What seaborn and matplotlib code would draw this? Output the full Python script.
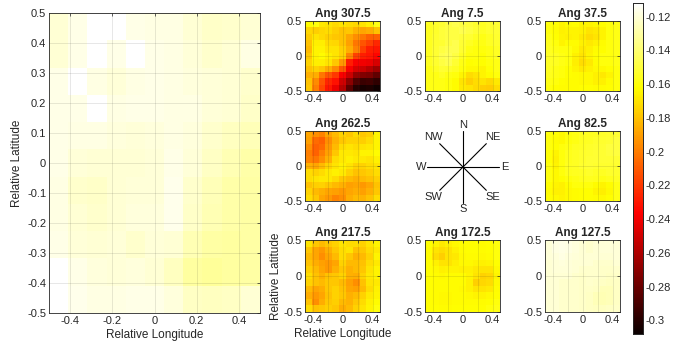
import numpy as np
import pandas as pd
import seaborn as sns
import matplotlib.pyplot as plt

# ===============================
# DATA (rows: latitude 0.5 -> -0.5, cols: longitude -0.5 -> 0.5)
# ===============================
lat_vals = [0.5, 0.4, 0.3, 0.2, 0.1, 0.0, -0.1, -0.2, -0.3, -0.4, -0.5]
lon_vals = [-0.5, -0.4, -0.3, -0.2, -0.1, 0.0, 0.1, 0.2, 0.3, 0.4, 0.5]

all_dirs = [
    [-0.121, -0.117, -0.112, -0.112, -0.117, -0.118, -0.118, -0.121, -0.123, -0.122, -0.121],
    [-0.121, -0.117, -0.112, -0.117, -0.112, -0.117, -0.118, -0.120, -0.122, -0.121, -0.118],
    [-0.117, -0.112, -0.118, -0.120, -0.118, -0.117, -0.118, -0.119, -0.120, -0.121, -0.122],
    [-0.117, -0.117, -0.112, -0.118, -0.117, -0.117, -0.118, -0.118, -0.120, -0.121, -0.123],
    [-0.117, -0.118, -0.118, -0.119, -0.120, -0.119, -0.118, -0.119, -0.122, -0.125, -0.126],
    [-0.117, -0.120, -0.121, -0.121, -0.121, -0.120, -0.117, -0.120, -0.124, -0.127, -0.129],
    [-0.118, -0.122, -0.123, -0.121, -0.120, -0.120, -0.116, -0.122, -0.126, -0.129, -0.130],
    [-0.118, -0.121, -0.122, -0.121, -0.119, -0.119, -0.116, -0.123, -0.127, -0.129, -0.130],
    [-0.117, -0.120, -0.121, -0.120, -0.122, -0.120, -0.121, -0.127, -0.130, -0.131, -0.130],
    [-0.112, -0.117, -0.119, -0.120, -0.119, -0.121, -0.125, -0.131, -0.132, -0.131, -0.130],
    [-0.112, -0.116, -0.118, -0.118, -0.117, -0.117, -0.119, -0.124, -0.125, -0.124, -0.121],
]

ang_307 = [
    [-0.163, -0.160, -0.168, -0.170, -0.173, -0.170, -0.172, -0.174, -0.170, -0.166, -0.158],
    [-0.174, -0.176, -0.174, -0.172, -0.176, -0.180, -0.178, -0.184, -0.188, -0.186, -0.180],
    [-0.177, -0.170, -0.173, -0.176, -0.178, -0.180, -0.188, -0.195, -0.202, -0.208, -0.208],
    [-0.180, -0.167, -0.167, -0.173, -0.174, -0.180, -0.190, -0.202, -0.212, -0.218, -0.225],
    [-0.182, -0.165, -0.165, -0.170, -0.170, -0.176, -0.186, -0.198, -0.218, -0.228, -0.230],
    [-0.178, -0.165, -0.163, -0.167, -0.170, -0.176, -0.198, -0.218, -0.228, -0.230, -0.235],
    [-0.175, -0.167, -0.167, -0.170, -0.178, -0.192, -0.228, -0.238, -0.240, -0.242, -0.248],
    [-0.180, -0.175, -0.178, -0.186, -0.196, -0.212, -0.238, -0.248, -0.252, -0.258, -0.265],
    [-0.185, -0.186, -0.202, -0.212, -0.220, -0.238, -0.252, -0.268, -0.273, -0.275, -0.282],
    [-0.180, -0.196, -0.212, -0.226, -0.232, -0.250, -0.270, -0.287, -0.294, -0.292, -0.297],
    [-0.178, -0.200, -0.216, -0.230, -0.242, -0.258, -0.284, -0.300, -0.304, -0.302, -0.306],
]

ang_262 = [
    [-0.188, -0.195, -0.198, -0.188, -0.182, -0.175, -0.178, -0.172, -0.178, -0.176, -0.165],
    [-0.190, -0.205, -0.208, -0.195, -0.185, -0.178, -0.175, -0.175, -0.176, -0.172, -0.165],
    [-0.195, -0.208, -0.205, -0.192, -0.182, -0.172, -0.170, -0.172, -0.170, -0.168, -0.165],
    [-0.200, -0.208, -0.200, -0.190, -0.178, -0.168, -0.168, -0.170, -0.165, -0.165, -0.163],
    [-0.198, -0.202, -0.195, -0.185, -0.172, -0.168, -0.166, -0.168, -0.168, -0.170, -0.166],
    [-0.185, -0.188, -0.182, -0.175, -0.170, -0.166, -0.170, -0.175, -0.175, -0.172, -0.170],
    [-0.172, -0.175, -0.172, -0.168, -0.166, -0.168, -0.175, -0.180, -0.178, -0.176, -0.172],
    [-0.172, -0.170, -0.168, -0.168, -0.172, -0.178, -0.182, -0.185, -0.182, -0.180, -0.176],
    [-0.180, -0.176, -0.175, -0.178, -0.182, -0.185, -0.190, -0.188, -0.192, -0.188, -0.180],
    [-0.175, -0.182, -0.185, -0.188, -0.190, -0.192, -0.188, -0.186, -0.190, -0.185, -0.178],
    [-0.172, -0.178, -0.188, -0.192, -0.198, -0.195, -0.186, -0.182, -0.184, -0.180, -0.172],
]

ang_217 = [
    [-0.170, -0.178, -0.182, -0.178, -0.175, -0.170, -0.172, -0.172, -0.175, -0.170, -0.165],
    [-0.178, -0.188, -0.192, -0.185, -0.178, -0.172, -0.170, -0.180, -0.178, -0.172, -0.168],
    [-0.182, -0.188, -0.195, -0.188, -0.182, -0.172, -0.178, -0.185, -0.182, -0.175, -0.165],
    [-0.180, -0.186, -0.190, -0.192, -0.188, -0.175, -0.182, -0.182, -0.180, -0.172, -0.168],
    [-0.176, -0.182, -0.188, -0.192, -0.185, -0.178, -0.185, -0.182, -0.178, -0.170, -0.165],
    [-0.172, -0.180, -0.185, -0.180, -0.178, -0.175, -0.185, -0.186, -0.175, -0.168, -0.165],
    [-0.175, -0.180, -0.182, -0.178, -0.178, -0.182, -0.190, -0.195, -0.180, -0.170, -0.168],
    [-0.182, -0.188, -0.186, -0.178, -0.175, -0.180, -0.188, -0.190, -0.182, -0.172, -0.166],
    [-0.186, -0.192, -0.188, -0.180, -0.175, -0.178, -0.185, -0.182, -0.175, -0.168, -0.165],
    [-0.180, -0.195, -0.186, -0.178, -0.176, -0.182, -0.184, -0.178, -0.172, -0.166, -0.163],
    [-0.172, -0.180, -0.178, -0.176, -0.178, -0.186, -0.182, -0.175, -0.170, -0.165, -0.160],
]

ang_7 = [
    [-0.156, -0.154, -0.152, -0.149, -0.147, -0.149, -0.151, -0.153, -0.155, -0.153, -0.152],
    [-0.156, -0.154, -0.151, -0.149, -0.149, -0.147, -0.149, -0.152, -0.155, -0.153, -0.152],
    [-0.156, -0.153, -0.151, -0.149, -0.149, -0.151, -0.152, -0.155, -0.158, -0.155, -0.153],
    [-0.156, -0.153, -0.152, -0.149, -0.147, -0.152, -0.155, -0.158, -0.158, -0.155, -0.154],
    [-0.156, -0.152, -0.149, -0.147, -0.147, -0.153, -0.158, -0.160, -0.160, -0.158, -0.155],
    [-0.156, -0.152, -0.147, -0.145, -0.149, -0.155, -0.160, -0.160, -0.161, -0.158, -0.155],
    [-0.156, -0.153, -0.149, -0.147, -0.152, -0.158, -0.162, -0.161, -0.162, -0.160, -0.158],
    [-0.158, -0.155, -0.152, -0.153, -0.155, -0.160, -0.164, -0.164, -0.165, -0.161, -0.158],
    [-0.158, -0.158, -0.155, -0.158, -0.160, -0.165, -0.172, -0.170, -0.165, -0.163, -0.160],
    [-0.158, -0.158, -0.158, -0.160, -0.163, -0.170, -0.176, -0.172, -0.170, -0.173, -0.168],
    [-0.158, -0.158, -0.158, -0.160, -0.163, -0.168, -0.170, -0.173, -0.176, -0.177, -0.172],
]

ang_37 = [
    [-0.160, -0.162, -0.165, -0.163, -0.162, -0.165, -0.165, -0.164, -0.162, -0.160, -0.158],
    [-0.160, -0.163, -0.166, -0.165, -0.165, -0.166, -0.170, -0.168, -0.165, -0.160, -0.158],
    [-0.158, -0.162, -0.165, -0.166, -0.165, -0.168, -0.172, -0.170, -0.165, -0.160, -0.158],
    [-0.157, -0.160, -0.165, -0.163, -0.163, -0.166, -0.168, -0.166, -0.163, -0.160, -0.158],
    [-0.156, -0.158, -0.160, -0.160, -0.164, -0.168, -0.166, -0.163, -0.162, -0.160, -0.158],
    [-0.155, -0.156, -0.158, -0.160, -0.166, -0.170, -0.165, -0.162, -0.160, -0.160, -0.158],
    [-0.155, -0.156, -0.158, -0.160, -0.167, -0.172, -0.168, -0.163, -0.160, -0.160, -0.158],
    [-0.156, -0.158, -0.160, -0.162, -0.165, -0.168, -0.166, -0.164, -0.164, -0.162, -0.160],
    [-0.157, -0.158, -0.160, -0.162, -0.163, -0.164, -0.164, -0.166, -0.168, -0.165, -0.160],
    [-0.158, -0.160, -0.162, -0.163, -0.163, -0.164, -0.164, -0.166, -0.166, -0.163, -0.160],
    [-0.160, -0.162, -0.163, -0.163, -0.163, -0.162, -0.162, -0.163, -0.163, -0.162, -0.160],
]

ang_82 = [
    [-0.160, -0.162, -0.164, -0.160, -0.158, -0.156, -0.156, -0.155, -0.154, -0.153, -0.152],
    [-0.160, -0.163, -0.164, -0.160, -0.158, -0.156, -0.155, -0.154, -0.153, -0.152, -0.150],
    [-0.160, -0.162, -0.160, -0.158, -0.156, -0.155, -0.154, -0.153, -0.152, -0.150, -0.150],
    [-0.161, -0.165, -0.160, -0.157, -0.155, -0.154, -0.153, -0.152, -0.152, -0.151, -0.150],
    [-0.161, -0.166, -0.160, -0.157, -0.155, -0.154, -0.152, -0.152, -0.152, -0.152, -0.152],
    [-0.160, -0.165, -0.160, -0.156, -0.155, -0.153, -0.152, -0.153, -0.153, -0.153, -0.153],
    [-0.160, -0.164, -0.160, -0.157, -0.156, -0.155, -0.154, -0.155, -0.155, -0.154, -0.154],
    [-0.160, -0.164, -0.162, -0.160, -0.158, -0.157, -0.156, -0.157, -0.158, -0.157, -0.155],
    [-0.162, -0.165, -0.166, -0.163, -0.160, -0.160, -0.160, -0.163, -0.165, -0.163, -0.158],
    [-0.163, -0.166, -0.166, -0.164, -0.163, -0.162, -0.162, -0.165, -0.167, -0.164, -0.158],
    [-0.162, -0.164, -0.165, -0.164, -0.163, -0.162, -0.162, -0.163, -0.164, -0.162, -0.158],
]

ang_172 = [
    [-0.162, -0.165, -0.168, -0.166, -0.164, -0.162, -0.162, -0.162, -0.163, -0.162, -0.160],
    [-0.163, -0.170, -0.172, -0.170, -0.166, -0.163, -0.162, -0.162, -0.163, -0.162, -0.160],
    [-0.163, -0.172, -0.176, -0.170, -0.168, -0.164, -0.163, -0.163, -0.164, -0.163, -0.160],
    [-0.162, -0.166, -0.170, -0.170, -0.167, -0.164, -0.164, -0.165, -0.166, -0.165, -0.162],
    [-0.162, -0.164, -0.166, -0.165, -0.165, -0.166, -0.166, -0.168, -0.170, -0.170, -0.164],
    [-0.162, -0.163, -0.164, -0.163, -0.163, -0.163, -0.165, -0.170, -0.175, -0.174, -0.165],
    [-0.162, -0.163, -0.163, -0.163, -0.163, -0.163, -0.166, -0.176, -0.174, -0.172, -0.164],
    [-0.162, -0.163, -0.163, -0.163, -0.163, -0.164, -0.166, -0.170, -0.170, -0.168, -0.163],
    [-0.162, -0.163, -0.164, -0.164, -0.163, -0.163, -0.164, -0.165, -0.165, -0.164, -0.162],
    [-0.162, -0.163, -0.164, -0.164, -0.163, -0.163, -0.163, -0.163, -0.163, -0.162, -0.160],
    [-0.162, -0.162, -0.163, -0.163, -0.162, -0.162, -0.162, -0.162, -0.162, -0.160, -0.158],
]

ang_127 = [
    [-0.120, -0.118, -0.117, -0.118, -0.119, -0.121, -0.122, -0.121, -0.120, -0.120, -0.120],
    [-0.120, -0.118, -0.117, -0.118, -0.119, -0.121, -0.122, -0.121, -0.120, -0.120, -0.120],
    [-0.120, -0.119, -0.118, -0.119, -0.120, -0.121, -0.121, -0.121, -0.121, -0.121, -0.120],
    [-0.121, -0.120, -0.119, -0.120, -0.121, -0.121, -0.121, -0.122, -0.122, -0.122, -0.121],
    [-0.121, -0.120, -0.120, -0.120, -0.121, -0.122, -0.122, -0.122, -0.123, -0.123, -0.122],
    [-0.121, -0.121, -0.121, -0.121, -0.122, -0.123, -0.122, -0.122, -0.123, -0.124, -0.123],
    [-0.121, -0.121, -0.122, -0.122, -0.122, -0.123, -0.122, -0.123, -0.124, -0.125, -0.124],
    [-0.121, -0.121, -0.122, -0.122, -0.122, -0.123, -0.123, -0.124, -0.126, -0.126, -0.124],
    [-0.121, -0.121, -0.122, -0.122, -0.122, -0.123, -0.124, -0.126, -0.127, -0.126, -0.124],
    [-0.121, -0.121, -0.122, -0.122, -0.122, -0.123, -0.124, -0.126, -0.127, -0.126, -0.124],
    [-0.121, -0.121, -0.122, -0.122, -0.122, -0.123, -0.124, -0.125, -0.125, -0.124, -0.123],
]

# small panels: title, data, (column, row) in the 3x3 grid
panels = [
    ("Ang 307.5", ang_307, 0, 0),
    ("Ang 7.5",   ang_7,   1, 0),
    ("Ang 37.5",  ang_37,  2, 0),
    ("Ang 262.5", ang_262, 0, 1),
    ("Ang 82.5",  ang_82,  2, 1),
    ("Ang 217.5", ang_217, 0, 2),
    ("Ang 172.5", ang_172, 1, 2),
    ("Ang 127.5", ang_127, 2, 2),
]

compass_labels = ["N", "NE", "E", "SE", "S", "SW", "W", "NW"]
compass_angles = [90, 45, 0, -45, -90, -135, 180, 135]

VMIN, VMAX = -0.308, -0.112
cbar_ticks = [-0.3, -0.28, -0.26, -0.24, -0.22, -0.2, -0.18, -0.16, -0.14, -0.12]

# ===============================
# STYLE
# ===============================
sns.set_style("white")
plt.rcParams["font.family"] = ["Liberation Sans", "DejaVu Sans"]
plt.rcParams["font.size"] = 8
AX_COLOR = "#262626"
TICK_FS = 8
LABEL_FS = 8.5

W, H = 688, 348
fig = plt.figure(figsize=(W / 100, H / 100), dpi=100)


def px_axes(l, t, r, b):
    return fig.add_axes([l / W, 1 - b / H, (r - l) / W, (b - t) / H])


def fmt(v):
    s = f"{v:g}"
    return "0" if s in ("0", "-0") else s


def draw_map(ax, data, xticks, xlabels, yticks, ylabels, cbar_ax=None):
    df = pd.DataFrame(data, index=lat_vals, columns=lon_vals)
    n = len(lon_vals)
    sns.heatmap(df, ax=ax, cmap="hot", vmin=VMIN, vmax=VMAX,
                cbar=cbar_ax is not None, cbar_ax=cbar_ax,
                xticklabels=False, yticklabels=False)
    ax.set_xticks([(v + 0.5) * n for v in xticks])
    ax.set_xticklabels(xlabels)
    ax.set_yticks([(0.5 - v) * n for v in yticks])
    ax.set_yticklabels(ylabels, rotation=0)
    ax.set_xlabel("")
    ax.set_ylabel("")
    ax.set_axisbelow(False)
    ax.grid(True, color="#262626", alpha=0.13, linewidth=0.6)
    for s in ax.spines.values():
        s.set_visible(True)
        s.set_color(AX_COLOR)
        s.set_linewidth(0.6)
    ax.tick_params(direction="in", length=2.5, width=0.5, colors=AX_COLOR,
                   top=True, right=True, labelsize=TICK_FS, pad=2)
    for lab in ax.get_xticklabels() + ax.get_yticklabels():
        lab.set_color(AX_COLOR)


# ===============================
# BIG MAP (all directions)
# ===============================
ax_big = px_axes(49, 13, 260, 313)
cax = px_axes(633, 3, 643, 334)
big_x = [-0.4, -0.2, 0, 0.2, 0.4]
big_y = [0.5, 0.4, 0.3, 0.2, 0.1, 0, -0.1, -0.2, -0.3, -0.4, -0.5]
draw_map(ax_big, all_dirs, big_x, [fmt(v) for v in big_x],
         big_y, [fmt(v) for v in big_y], cbar_ax=cax)
ax_big.set_xlabel("Relative Longitude", fontsize=LABEL_FS, color=AX_COLOR, labelpad=2)
ax_big.set_ylabel("Relative Latitude", fontsize=LABEL_FS, color=AX_COLOR, labelpad=3)

# colorbar styling
cax.set_yticks(cbar_ticks)
cax.set_yticklabels([fmt(v) for v in cbar_ticks])
cax.tick_params(direction="in", length=2.5, width=0.5, colors=AX_COLOR,
                labelsize=TICK_FS, pad=2)
for s in cax.spines.values():
    s.set_visible(True)
    s.set_color(AX_COLOR)
    s.set_linewidth(0.6)

# ===============================
# SMALL MAPS
# ===============================
col_left = [305, 425, 545]
row_span = [(21, 91), (131, 201), (240, 312)]
small_x = [-0.4, -0.2, 0, 0.2, 0.4]
small_xl = ["-0.4", "", "0", "", "0.4"]
small_y = [0.5, 0, -0.5]

for title, data, c, r in panels:
    t, b = row_span[r]
    ax = px_axes(col_left[c], t, col_left[c] + 75, b)
    draw_map(ax, data, small_x, small_xl, small_y, [fmt(v) for v in small_y])
    ax.set_title(title, fontsize=8.5, fontweight="bold", pad=3)
    if title == "Ang 217.5":
        ax.set_xlabel("Relative Longitude", fontsize=LABEL_FS, color=AX_COLOR, labelpad=2)
        ax.set_ylabel("Relative Latitude", fontsize=LABEL_FS, color=AX_COLOR, labelpad=1)

# ===============================
# COMPASS
# ===============================
axc = px_axes(413, 117, 513, 217)
axc.set_xlim(-50, 50)
axc.set_ylim(-50, 50)
axc.axis("off")
for lab, ang in zip(compass_labels, compass_angles):
    a = np.deg2rad(ang)
    r_line = 36 if len(lab) == 1 else 33
    axc.plot([0, r_line * np.cos(a)], [0, r_line * np.sin(a)],
             color="black", linewidth=0.8)
    axc.text(42 * np.cos(a), 42 * np.sin(a), lab, ha="center", va="center",
             fontsize=8, color=AX_COLOR)

fig.savefig("out.png", dpi=100)
